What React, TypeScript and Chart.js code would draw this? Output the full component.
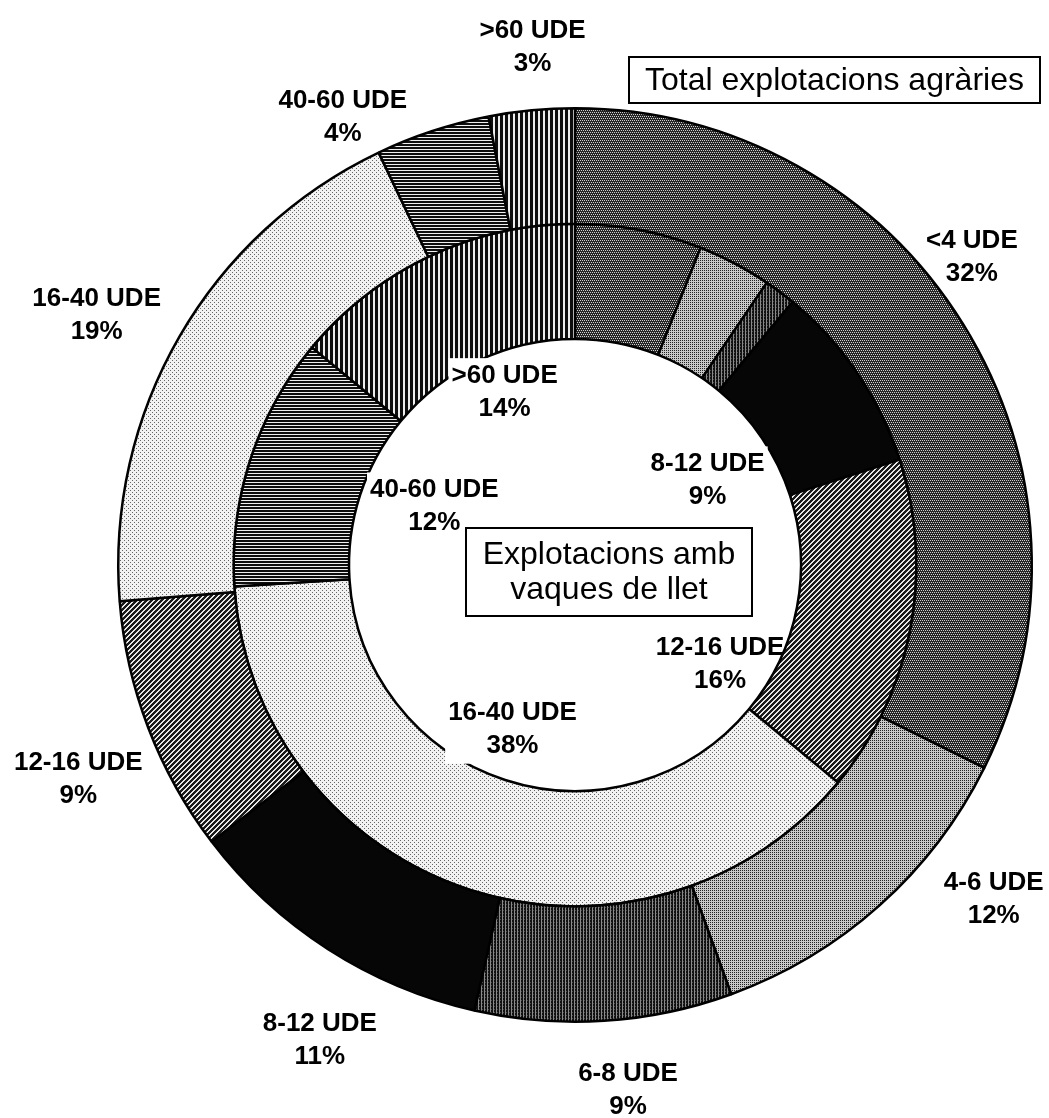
import React, { useEffect, useRef } from "react";
import { Chart, registerables } from "chart.js";

Chart.register(...registerables);

// ---- data ----
const categories = ["<4 UDE", "4-6 UDE", "6-8 UDE", "8-12 UDE", "12-16 UDE", "16-40 UDE", "40-60 UDE", ">60 UDE"];
const totalFarmsPct = [32, 12, 9, 11, 9, 19, 4, 3];
const dairyFarmsPct = [6, 3.5, 1.5, 9, 16, 38, 12, 14];
const totalLabelShown = [true, true, true, true, true, true, true, true];
const dairyLabelShown = [false, false, false, true, true, true, true, true];
const outerTitle = "Total explotacions agràries";
const innerTitle = ["Explotacions amb", "vaques de llet"];

// ---- label placement (styling) ----
const outerLabelRadius = 520;
const outerLabelNudge = [[-45, -34], [72, -53], [20, 6], [26, 38], [-11, 29], [-28, 10], [-70, 46], [7, 0]];
const innerLabelRadius = 170;
const innerLabelNudge = [[0, 0], [0, 0], [0, 0], [-8, 11], [-22, 67], [-10, 3], [21, -6], [2, -19]];
const innerLabelBackground = [false, false, false, true, false, true, true, true];

const FONT = "'Liberation Sans', Arial, sans-serif";
const LABEL_SIZE = 26;
const TITLE_SIZE = 32;

function makePattern(ctx: CanvasRenderingContext2D, w: number, h: number, draw: (g: CanvasRenderingContext2D) => void) {
  const c = document.createElement("canvas");
  c.width = w;
  c.height = h;
  const g = c.getContext("2d") as CanvasRenderingContext2D;
  draw(g);
  return ctx.createPattern(c, "repeat") as CanvasPattern;
}

function px(g: CanvasRenderingContext2D, color: string, pts: number[][]) {
  g.fillStyle = color;
  pts.forEach(([x, y]) => g.fillRect(x, y, 1, 1));
}

function buildPatterns(ctx: CanvasRenderingContext2D) {
  const p0 = makePattern(ctx, 4, 4, (g) => {
    g.fillStyle = "#262626"; g.fillRect(0, 0, 4, 4);
    px(g, "#d0d0d0", [[0, 0], [2, 0], [1, 2], [3, 2]]);
  });
  const p1 = makePattern(ctx, 2, 2, (g) => {
    g.fillStyle = "#c8c8c8"; g.fillRect(0, 0, 2, 2);
    px(g, "#222222", [[0, 0]]);
  });
  const p2 = makePattern(ctx, 3, 3, (g) => {
    g.fillStyle = "#111111"; g.fillRect(0, 0, 3, 3);
    px(g, "#8a8a8a", [[1, 0], [1, 1], [1, 2]]);
    px(g, "#4a4a4a", [[2, 1]]);
  });
  const p3 = "#060606";
  const p4 = makePattern(ctx, 5, 5, (g) => {
    g.fillStyle = "#e6e6e6"; g.fillRect(0, 0, 5, 5);
    const pts: number[][] = [];
    for (let x = 0; x < 5; x++) for (let y = 0; y < 5; y++) if ((x + y) % 5 < 3) pts.push([x, y]);
    px(g, "#1a1a1a", pts);
  });
  const p5 = makePattern(ctx, 4, 4, (g) => {
    g.fillStyle = "#f2f2f2"; g.fillRect(0, 0, 4, 4);
    px(g, "#666666", [[0, 0], [2, 2]]);
  });
  const p6 = makePattern(ctx, 1, 3, (g) => {
    g.fillStyle = "#0e0e0e"; g.fillRect(0, 0, 1, 3);
    px(g, "#eeeeee", [[0, 2]]);
  });
  const p7 = makePattern(ctx, 5, 1, (g) => {
    g.fillStyle = "#0e0e0e"; g.fillRect(0, 0, 5, 1);
    px(g, "#eeeeee", [[3, 0], [4, 0]]);
  });
  return [p0, p1, p2, p3, p4, p5, p6, p7];
}

function drawLabel(ctx: CanvasRenderingContext2D, x: number, y: number, lines: string[], font: string, lh: number, bg: boolean) {
  ctx.save();
  ctx.font = font;
  ctx.textAlign = "center";
  ctx.textBaseline = "middle";
  if (bg) {
    const w = Math.max(...lines.map((l) => ctx.measureText(l).width));
    ctx.fillStyle = "#fff";
    ctx.fillRect(x - w / 2 - 3, y - (lh * lines.length) / 2 - 1, w + 6, lh * lines.length + 2);
  }
  ctx.fillStyle = "#000";
  lines.forEach((l, i) => {
    ctx.fillText(l, x, y + (i - (lines.length - 1) / 2) * lh);
  });
  ctx.restore();
}

const annotationPlugin = {
  id: "annotations",
  afterDatasetsDraw(chart: any) {
    const ctx: CanvasRenderingContext2D = chart.ctx;
    const outerMeta = chart.getDatasetMeta(0);
    const innerMeta = chart.getDatasetMeta(1);
    const cx = outerMeta.data[0].x;
    const cy = outerMeta.data[0].y;
    const labelFont = `bold ${LABEL_SIZE}px ${FONT}`;
    const lh = LABEL_SIZE * 1.27;

    // outer labels
    outerMeta.data.forEach((arc: any, i: number) => {
      if (!totalLabelShown[i]) return;
      const mid = (arc.startAngle + arc.endAngle) / 2;
      const x = cx + outerLabelRadius * Math.cos(mid) + outerLabelNudge[i][0];
      const y = cy + outerLabelRadius * Math.sin(mid) + outerLabelNudge[i][1];
      drawLabel(ctx, x, y, [categories[i], `${totalFarmsPct[i]}%`], labelFont, lh, false);
    });
    // inner labels
    innerMeta.data.forEach((arc: any, i: number) => {
      if (!dairyLabelShown[i]) return;
      const mid = (arc.startAngle + arc.endAngle) / 2;
      const x = cx + innerLabelRadius * Math.cos(mid) + innerLabelNudge[i][0];
      const y = cy + innerLabelRadius * Math.sin(mid) + innerLabelNudge[i][1];
      drawLabel(ctx, x, y, [categories[i], `${dairyFarmsPct[i]}%`], labelFont, lh, innerLabelBackground[i]);
    });

    // title boxes
    ctx.save();
    ctx.lineWidth = 2;
    ctx.strokeStyle = "#000";
    ctx.fillStyle = "#fff";
    const bx = 629, by = 57, bw = 411, bh = 46;
    ctx.fillRect(bx, by, bw, bh);
    ctx.strokeRect(bx, by, bw, bh);
    const ix = cx - 109, iy = cy - 37, iw = 286, ih = 88;
    ctx.fillStyle = "#fff";
    ctx.fillRect(ix, iy, iw, ih);
    ctx.strokeRect(ix, iy, iw, ih);
    ctx.restore();
    const titleFont = `${TITLE_SIZE}px ${FONT}`;
    drawLabel(ctx, bx + bw / 2, by + bh / 2 + 1, [outerTitle], titleFont, 35, false);
    drawLabel(ctx, ix + iw / 2, iy + ih / 2 + 1, innerTitle, titleFont, 35, false);
  },
};

export default function App() {
  const ref = useRef<HTMLCanvasElement | null>(null);
  useEffect(() => {
    const canvas = ref.current;
    if (!canvas) return;
    const ctx = canvas.getContext("2d") as CanvasRenderingContext2D;
    const patterns = buildPatterns(ctx);
    const chart = new Chart(canvas, {
      type: "doughnut",
      data: {
        labels: categories,
        datasets: [
          {
            label: "Total explotacions agràries",
            data: totalFarmsPct,
            backgroundColor: patterns,
            borderColor: "#000",
            borderWidth: 2.5,
          },
          {
            label: "Explotacions amb vaques de llet",
            data: dairyFarmsPct,
            backgroundColor: patterns,
            borderColor: "#000",
            borderWidth: 2.5,
          },
        ],
      },
      options: {
        responsive: false,
        animation: false,
        cutout: 226,
        layout: { padding: { left: 117, top: 107, right: 16, bottom: 95 } },
        plugins: {
          legend: { display: false },
          tooltip: { enabled: false },
        },
      },
      plugins: [annotationPlugin],
    });
    return () => chart.destroy();
  }, []);
  return (
    <div style={{ position: "absolute", left: 0, top: 0, width: 1049, height: 1118, background: "#fff" }}>
      <canvas ref={ref} width={1049} height={1118} style={{ width: 1049, height: 1118, display: "block" }} />
    </div>
  );
}
